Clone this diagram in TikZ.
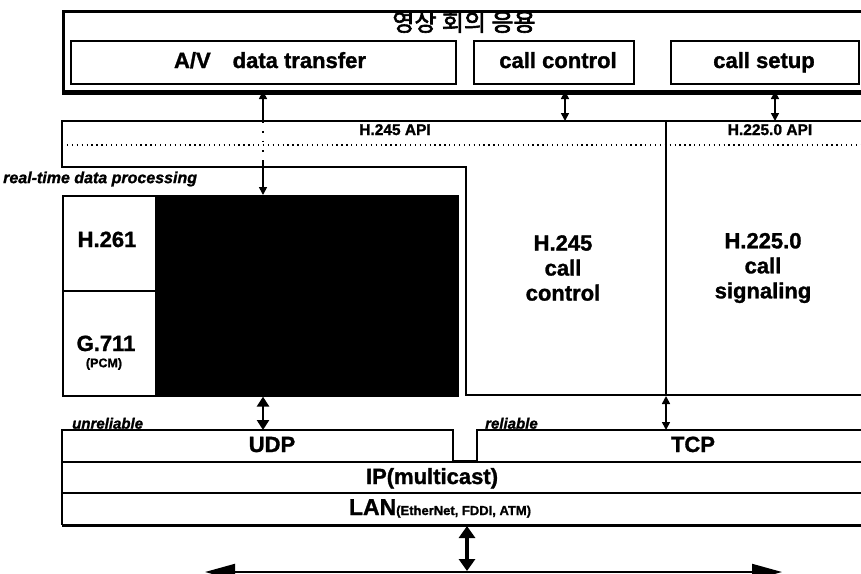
\documentclass[tikz,border=0pt]{standalone}
\usepackage{fontspec}
\setmainfont{Liberation Sans}[BoldFeatures={FakeBold=1.3},BoldItalicFeatures={FakeBold=1.3}]
\newfontfamily\kfont{Noto Sans CJK KR}[FakeBold=2.5]
\usetikzlibrary{arrows.meta}
\begin{document}
\begin{tikzpicture}[x=1pt,y=-1pt,
  box/.style={draw,line width=1.8pt,inner sep=0pt,anchor=north west},
  lbl/.style={font=\fontsize{22}{25}\selectfont\bfseries,inner sep=0pt,align=center},
  one/.style={lbl,text height=16pt,text depth=4pt},
  api/.style={font=\fontsize{15.5}{17}\selectfont\bfseries,inner sep=0pt,text height=11pt,text depth=3pt},
  ital/.style={font=\fontsize{16}{18}\selectfont\bfseries\itshape,inner sep=0pt},
  rule/.style={line width=1.6pt},
  dbl/.style={line width=1.6pt,{Triangle[length=8pt,width=8pt]}-{Triangle[length=8pt,width=8pt]}},
  fat/.style={line width=2.6pt,{Triangle[length=10pt,width=12pt]}-{Triangle[length=10pt,width=12pt]}},
]
\useasboundingbox (0,0) rectangle (861,573);
\clip (0,0) rectangle (861,573);

% application box
\node[box,line width=2.5pt,minimum width=840pt,minimum height=80pt] (app) at (62,10) {};
\draw[line width=4pt] (app.south west) -- (app.south east);
\node[inner sep=0pt,font=\kfont\fontsize{24}{26}\selectfont] (title) at (464,22) {영상 회의 응용};
\node[box,minimum width=385pt,minimum height=43pt] (av) at (70,40) {};
\node[box,minimum width=160pt,minimum height=43pt] (cc) at (473,40) {};
\node[box,minimum width=188pt,minimum height=43pt] (cs) at (670,40) {};
\node[one] (avt) at (270,62) {A/V\hspace{22pt}data transfer};
\node[one] (cct) at (558,62) {call control};
\node[one] (cst) at (764,62) {call setup};

% API layer
\draw[rule] (890,121) -- (62,121) -- (62,167) -- (466,167) -- (466,395) -- (890,395);
\draw[line width=1.3pt,dash pattern=on 1.3pt off 3.6pt] (62,145) -- (890,145);
\draw[rule] (666,121) -- (666,395);
\node[api] (h245api) at (395,131) {H.245 API};
\node[api] (h225api) at (770,131) {H.225.0 API};
\node[ital,anchor=west] (rtp) at (3,179) {real-time data processing};

% real-time codecs
\node[box,line width=1.6pt,minimum width=93pt,minimum height=95pt] (h261) at (62,195) {};
\node[box,line width=1.6pt,minimum width=93pt,minimum height=105pt] (g711) at (62,290) {};
\node[box,line width=1.6pt,fill=black,minimum width=302pt,minimum height=200pt] (blk) at (155,195) {};
\node[one] (h261t) at (107,241) {H.261};
\node[one] (g711t) at (106,345) {G.711};
\node[font=\fontsize{12.5}{14}\selectfont\bfseries,inner sep=0pt] (pcm) at (104,364) {(PCM)};

\node[lbl] (h245t) at (563,268) {H.245\\call\\control};
\node[lbl] (h225t) at (763,268) {H.225.0\\call\\signaling};

% transport layers
\draw[line width=2pt] (890,430) -- (477,430) -- (477,461) -- (453,461) -- (453,430) -- (62,430) -- (62,525);
\draw[rule] (62,462) -- (890,462);
\draw[rule] (62,493) -- (890,493);
\draw[line width=3pt] (62,525) -- (890,525);
\node[ital,font=\fontsize{15}{17}\selectfont\bfseries\itshape,anchor=south west] (unrel) at (72,429) {unreliable};
\node[ital,font=\fontsize{15}{17}\selectfont\bfseries\itshape,anchor=south west] (rel) at (485,429) {reliable};
\node[one] (udp) at (272,446) {UDP};
\node[one] (tcp) at (693,446) {TCP};
\node[one] (ip) at (432,478) {IP(multicast)};
\node[inner sep=0pt,text height=16pt,text depth=4pt] (lan) at (440,509) {\fontsize{23}{24}\selectfont\bfseries LAN\fontsize{13}{15}\selectfont(EtherNet, FDDI, ATM)};

% connectors
\coordinate (avb) at (263,91);
\coordinate (ava) at (263,121);
\coordinate (avd) at (263,160);
\draw[line width=1.6pt,{Triangle[length=8pt,width=8pt]}-] (avb) -- (ava);
\draw[line width=1.8pt,dash pattern=on 1.8pt off 8pt] (ava) -- (avd);
\draw[line width=1.6pt,-{Triangle[length=8pt,width=8pt]}] (avd) -- (blk.north west -| avd);
\draw[dbl] (565,91) -- (565,121);
\draw[dbl] (775,91) -- (775,121);
\draw[fat] (blk.south -| avd) -- (263,430);
\draw[dbl] (666,396) -- (666,430);
\draw[line width=4pt,{Triangle[length=12pt,width=16pt]}-{Triangle[length=12pt,width=16pt]}] (467,526) -- (467,571);
\draw[line width=2pt,{Triangle[length=30pt,width=16pt]}-{Triangle[length=30pt,width=16pt]}] (205,572) -- (782,572);
\end{tikzpicture}
\end{document}
